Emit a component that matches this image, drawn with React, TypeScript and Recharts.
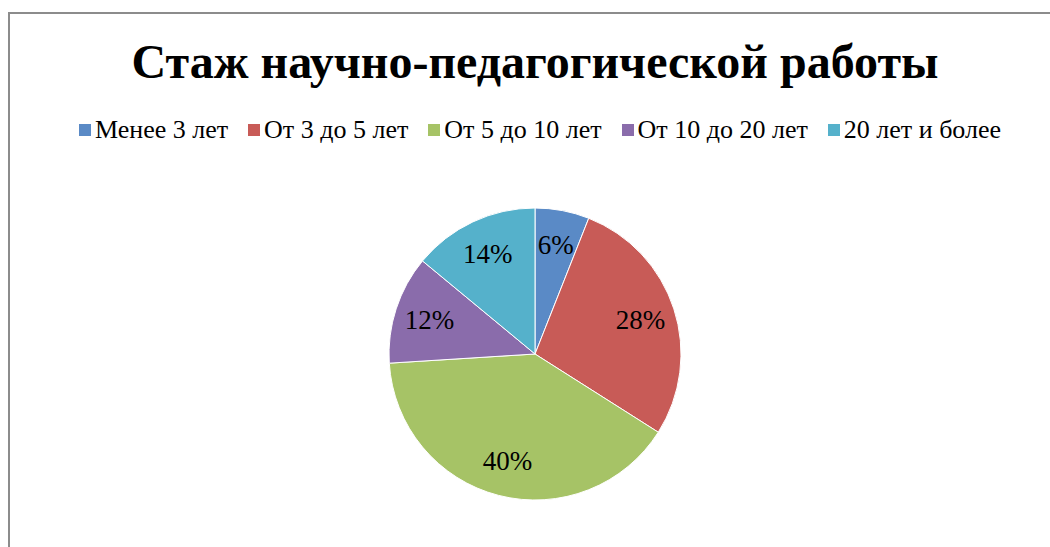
import React from 'react'
import { PieChart, Pie, Cell } from 'recharts'

const categories = ['Менее 3 лет', 'От 3 до 5 лет', 'От 5 до 10 лет', 'От 10 до 20 лет', '20 лет и более']
const shares = [6, 28, 40, 12, 14]
const colors = ['#5a8ac6', '#c85b57', '#a6c366', '#8a6cab', '#55b1cb']

const data = categories.map((name, i) => ({ name, value: shares[i] }))

const FONT = '"Liberation Serif", "Times New Roman", serif'
const RAD = Math.PI / 180

const renderLabel = (props: any) => {
  const { cx, cy, midAngle, outerRadius, value } = props
  const r = outerRadius * 0.76
  const x = cx + r * Math.cos(-midAngle * RAD)
  const y = cy + r * Math.sin(-midAngle * RAD)
  return (
    <text
      x={x}
      y={y}
      fill="#000"
      textAnchor="middle"
      dominantBaseline="central"
      style={{ fontFamily: FONT, fontSize: 27 }}
    >
      {value}%
    </text>
  )
}

export default function App() {
  return (
    <div
      style={{
        position: 'absolute',
        left: 0,
        top: 0,
        width: 1050,
        height: 547,
        overflow: 'hidden',
        background: '#fff',
        fontFamily: FONT
      }}
    >
      <div
        style={{
          position: 'absolute',
          left: 8,
          top: 12,
          width: 1100,
          height: 600,
          border: '2px solid #8c8c8c',
          boxSizing: 'border-box'
        }}
      />
      <div
        style={{
          position: 'absolute',
          left: 0,
          top: 32,
          width: 1070,
          textAlign: 'center',
          fontWeight: 'bold',
          fontSize: 48,
          lineHeight: '60px',
          color: '#000'
        }}
      >
        Стаж научно-педагогической работы
      </div>
      <div
        style={{
          position: 'absolute',
          left: 0,
          top: 114,
          width: 1080,
          display: 'flex',
          justifyContent: 'center',
          gap: 20,
          fontSize: 26,
          lineHeight: '32px',
          color: '#000',
          whiteSpace: 'nowrap'
        }}
      >
        {categories.map((c, i) => (
          <div key={c} style={{ display: 'flex', alignItems: 'center' }}>
            <span
              style={{
                display: 'inline-block',
                width: 12,
                height: 12,
                background: colors[i],
                marginRight: 4
              }}
            />
            <span>{c}</span>
          </div>
        ))}
      </div>
      <div style={{ position: 'absolute', left: 0, top: 0 }}>
        <PieChart width={1050} height={547} margin={{ top: 0, right: 0, bottom: 0, left: 0 }}>
          <Pie
            data={data}
            dataKey="value"
            nameKey="name"
            cx={535}
            cy={354}
            outerRadius={146}
            startAngle={90}
            endAngle={-270}
            stroke="#ffffff"
            strokeWidth={1}
            label={renderLabel}
            labelLine={false}
            isAnimationActive={false}
          >
            {data.map((d, i) => (
              <Cell key={d.name} fill={colors[i]} />
            ))}
          </Pie>
        </PieChart>
      </div>
    </div>
  )
}
